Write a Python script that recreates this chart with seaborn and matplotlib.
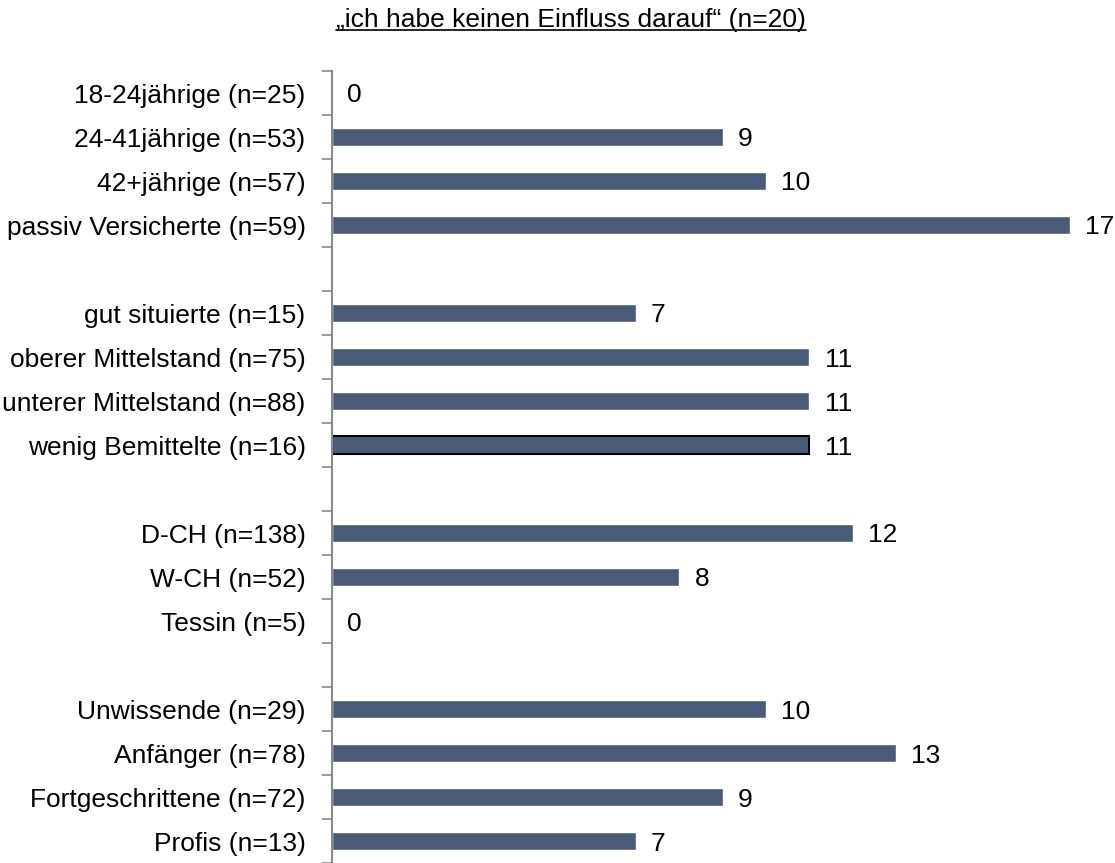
import numpy as np
import pandas as pd
import matplotlib
matplotlib.use("Agg")
import matplotlib.pyplot as plt
import seaborn as sns
from matplotlib.lines import Line2D

# Data
groups = [
    ["18-24jährige (n=25)", "24-41jährige (n=53)", "42+jährige (n=57)", "passiv Versicherte (n=59)"],
    ["gut situierte (n=15)", "oberer Mittelstand (n=75)", "unterer Mittelstand (n=88)", "wenig Bemittelte (n=16)"],
    ["D-CH (n=138)", "W-CH (n=52)", "Tessin (n=5)"],
    ["Unwissende (n=29)", "Anfänger (n=78)", "Fortgeschrittene (n=72)", "Profis (n=13)"],
]
values = [
    [0, 9, 10, 17],
    [7, 11, 11, 11],
    [12, 8, 0],
    [10, 13, 9, 7],
]
title = "\u201eich habe keinen Einfluss darauf\u201c (n=20)"
bar_color = "#4A5B78"
outlined = "wenig Bemittelte (n=16)"

# row order with empty spacer rows between the groups
order = []
for i, g in enumerate(groups):
    if i > 0:
        order.append(f"_gap{i}")
    order.extend(g)

df = pd.DataFrame({
    "label": [l for g in groups for l in g],
    "value": [v for g in values for v in g],
})

sns.set_theme(style="white")
plt.rcParams["font.family"] = ["Liberation Sans", "DejaVu Sans"]
fs = 19

fig = plt.figure(figsize=(11.15, 8.63), dpi=100)
ax = fig.add_axes([332 / 1115, 0, 781 / 1115, 1 - 71 / 863])

sns.barplot(data=df, x="value", y="label", order=order, color=bar_color,
            width=0.4, saturation=1, orient="h", ax=ax, errorbar=None)

# outline one bar like in the original
label_to_patch = {}
for patch in ax.patches:
    yc = patch.get_y() + patch.get_height() / 2
    label_to_patch[order[int(round(yc))]] = patch
label_to_patch[outlined].set_edgecolor("black")
label_to_patch[outlined].set_linewidth(1.5)

for c in ax.containers:
    lbls = ax.bar_label(c, fmt="%g", padding=11, fontsize=fs, color="black")
    for l in lbls:
        l.set_va("center_baseline")

ax.set_xlim(0, 18)
ax.set_ylim(len(order) - 0.5, -0.5)
ax.set_xlabel("")
ax.set_ylabel("")
ax.set_xticks([])
ax.set_yticks(range(len(order)))
ax.set_yticklabels(["" if o.startswith("_gap") else o for o in order], fontsize=fs, color="black")
ax.tick_params(axis="y", which="major", length=0, pad=19)
ax.set_yticks(np.arange(-0.5, len(order), 1), minor=True)
ax.tick_params(axis="y", which="minor", left=True, length=7, width=1.2, color="#8a8a8a")

for s in ["top", "right", "bottom"]:
    ax.spines[s].set_visible(False)
ax.spines["left"].set_color("#8a8a8a")
ax.spines["left"].set_linewidth(1.5)

# underlined title
t = fig.text(571 / 1115, 1 - 20 / 863, title, ha="center", va="center", fontsize=fs, color="black")
fig.canvas.draw()
bb = t.get_window_extent().transformed(fig.transFigure.inverted())
fig.add_artist(Line2D([bb.x0, bb.x1], [bb.y0 + 0.002, bb.y0 + 0.002], color="black", linewidth=1.2,
                      transform=fig.transFigure))

fig.savefig("out.png", dpi=100)
